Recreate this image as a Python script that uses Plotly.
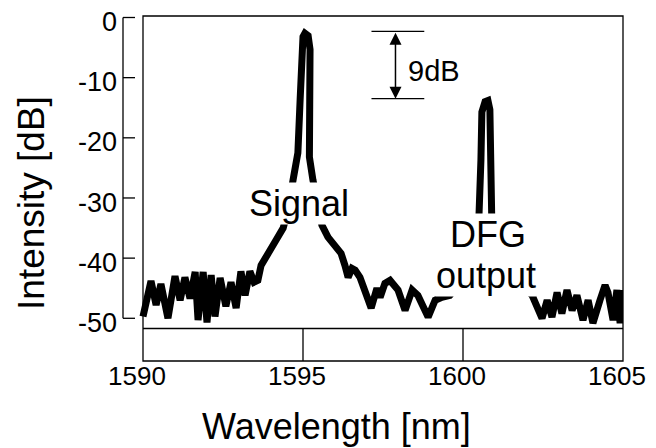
import plotly.graph_objects as go

# Spectrum (wavelength in nm, intensity in dB)
wavelength = [
    1590.00, 1590.25, 1590.41, 1590.56, 1590.78, 1591.00, 1591.16, 1591.31, 1591.47, 1591.63,
    1591.72, 1591.88, 1592.00, 1592.13, 1592.25, 1592.41, 1592.59, 1592.75, 1592.91, 1593.06,
    1593.19, 1593.34, 1593.47, 1593.59, 1593.69, 1593.81, 1593.97, 1594.16, 1594.38, 1594.53,
    1594.69, 1594.78, 1594.84, 1594.91, 1594.97, 1595.00, 1595.06, 1595.16, 1595.22, 1595.23,
    1595.20, 1595.31, 1595.44, 1595.59, 1595.78, 1595.94, 1596.09, 1596.19, 1596.31, 1596.41,
    1596.53, 1596.63, 1596.78, 1596.91, 1597.00, 1597.13, 1597.31, 1597.41, 1597.56, 1597.72,
    1597.97, 1598.19, 1598.41, 1598.59, 1598.91, 1599.13, 1599.34, 1599.59, 1599.84, 1600.09,
    1600.34, 1600.50, 1600.56, 1600.59, 1600.69, 1600.78, 1600.84, 1600.86, 1600.87, 1600.91,
    1601.03, 1601.31, 1601.63, 1601.94, 1602.16, 1602.25, 1602.47, 1602.63, 1602.78, 1602.94,
    1603.09, 1603.25, 1603.41, 1603.56, 1603.75, 1603.91, 1604.06, 1604.28, 1604.44, 1604.53,
    1604.69, 1604.81, 1604.91, 1605.00,
]
intensity = [
    -49.7, -43.8, -47.8, -44.3, -50.0, -43.0, -47.0, -43.2, -46.7, -42.3,
    -50.3, -42.3, -50.7, -42.8, -49.7, -43.3, -48.0, -44.0, -48.3, -42.2,
    -46.2, -42.2, -44.0, -43.7, -41.2, -40.0, -38.7, -37.0, -35.0, -32.0,
    -27.0, -24.2, -22.5, -13.7, -5.3, -3.2, -2.6, -3.0, -5.3, -15.3,
    -23.2, -27.0, -30.3, -34.5, -36.5, -37.5, -38.7, -39.2, -41.2, -43.2,
    -41.7, -42.0, -43.2, -45.0, -46.5, -48.3, -45.0, -46.5, -44.2, -43.7,
    -45.3, -48.7, -45.3, -46.2, -49.8, -47.0, -46.5, -46.2, -44.5, -44.0,
    -42.0, -32.8, -23.7, -15.7, -14.0, -13.8, -15.3, -23.7, -31.5, -37.0,
    -42.8, -44.2, -44.7, -44.8, -46.2, -47.5, -50.0, -47.0, -49.8, -45.7,
    -49.2, -45.3, -48.7, -46.2, -50.3, -47.0, -50.8, -47.0, -44.5, -45.7,
    -50.3, -45.3, -50.8, -45.3,
]

x_ticks = [1590, 1595, 1600, 1605]
y_ticks = [0, -10, -20, -30, -40, -50]
y_ticktext = ["0", "-10", "-20", "-30", "-40", "-50"]

FONT = "Liberation Sans, Arial, sans-serif"
AX = dict(color="black", width=1.3)
SPINE_X = 1590 - 20 / 32   # detached scale sits 20 px left of the box
TICK_LEN = 12 / 32

fig = go.Figure()

# spectrum on y2 (full-height data axis)
fig.add_trace(go.Scatter(
    x=wavelength, y=intensity, yaxis="y2", mode="lines",
    line=dict(color="black", width=7), showlegend=False, hoverinfo="skip",
))
# dummy trace so the intensity scale labels (y) are drawn
fig.add_trace(go.Scatter(
    x=[1590], y=[0], mode="lines",
    line=dict(width=0), showlegend=False, hoverinfo="skip",
))

# detached intensity scale: spine plus inward ticks, drawn as one line trace
spine_x = [SPINE_X, SPINE_X, None]
spine_y = [min(y_ticks), max(y_ticks), None]
for v in y_ticks:
    spine_x += [SPINE_X, SPINE_X + TICK_LEN, None]
    spine_y += [v, v, None]
fig.add_trace(go.Scatter(
    x=spine_x, y=spine_y, yaxis="y2", mode="lines", connectgaps=False,
    line=AX, showlegend=False, hoverinfo="skip", cliponaxis=False,
))

# frame of the plot box
fig.add_shape(type="rect", xref="paper", yref="paper", x0=24 / 504, x1=1, y0=0, y1=1, line=AX)
# lower strip of the frame with its two tick lines
fig.add_shape(type="line", xref="x", yref="y2", x0=1590, x1=1605, y0=-51.7, y1=-51.7, line=AX)
for xv in x_ticks[1:-1]:
    fig.add_shape(type="line", xref="x", yref="y2", x0=xv, x1=xv, y0=-57.1, y1=-51.7, line=AX)

# 9 dB marker
for yv in [-2.3, -13.5]:
    fig.add_shape(type="line", xref="x", yref="y2", x0=1597.14, x1=1598.79, y0=yv, y1=yv, line=AX)
fig.add_annotation(x=1597.89, y=-13.5, ax=1597.89, ay=-2.3, axref="x", ayref="y2",
                   xref="x", yref="y2", text="", showarrow=True, arrowside="end+start",
                   arrowhead=2, arrowsize=1.6, arrowwidth=1.5, arrowcolor="black")
fig.add_annotation(x=1599.1, y=-8.9, xref="x", yref="y2", text="9dB", showarrow=False,
                   font=dict(family=FONT, size=29, color="black"))

# labels (white boxes hide the trace underneath)
for txt, xv, yv in [("Signal", 1594.88, -31.0), ("DFG", 1600.78, -36.0), ("output", 1600.72, -42.9)]:
    fig.add_annotation(x=xv, y=yv, xref="x", yref="y2", text=txt, showarrow=False,
                       bgcolor="white", borderpad=0,
                       font=dict(family=FONT, size=36, color="black"))

# axis titles
fig.add_annotation(x=-0.1726, y=0.458, xref="paper", yref="paper", text="Intensity [dB]",
                   textangle=-90, showarrow=False, xanchor="center", yanchor="middle",
                   font=dict(family=FONT, size=37, color="black"))
fig.add_annotation(x=0.4325, y=-0.19, xref="paper", yref="paper", text="Wavelength [nm]",
                   showarrow=False, xanchor="center", yanchor="middle",
                   font=dict(family=FONT, size=36, color="black"))

# the page body adds an 8px offset, so the figure is 8px smaller than the window
fig.update_layout(
    width=648, height=440,
    margin=dict(l=111, r=33, t=8, b=87, autoexpand=False),
    paper_bgcolor="white", plot_bgcolor="rgba(0,0,0,0)",
    font=dict(family=FONT, color="black"),
    xaxis=dict(
        domain=[0, 1], range=[1590 - 24 / 32, 1605], anchor="y2",
        tickvals=x_ticks, ticks="", showline=False,
        showgrid=False, zeroline=False, tickfont=dict(size=26),
        ticklabelstandoff=-3, ticklabelshift=-6, automargin=False,
    ),
    yaxis=dict(
        domain=[0.1232, 0.9957], range=[-50, 0], anchor="free", position=4 / 504,
        tickvals=y_ticks, ticktext=y_ticktext, ticks="", showline=False,
        ticklabeloverflow="allow", ticklabelshift=4, ticklabelstandoff=6,
        showgrid=False, zeroline=False,
        tickfont=dict(size=27), automargin=False,
    ),
    yaxis2=dict(
        domain=[0, 1], range=[-57.1, 0.25], anchor="x",
        showticklabels=False, ticks="", showline=False,
        showgrid=False, zeroline=False, automargin=False,
    ),
)

fig.write_html("out.html")
